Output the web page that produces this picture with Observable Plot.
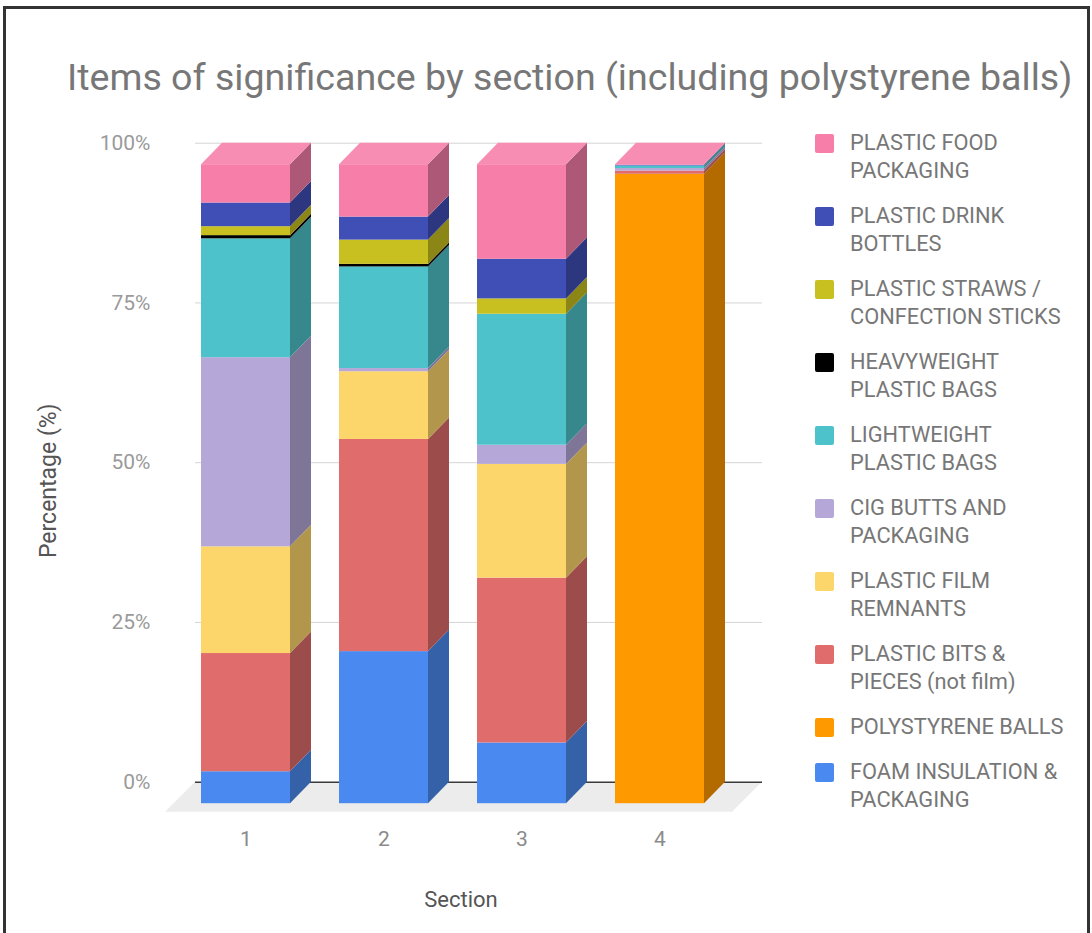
<!DOCTYPE html>
<html>
<head>
<meta charset="utf-8">
<script src="https://cdn.jsdelivr.net/npm/d3@7"></script>
<script src="https://cdn.jsdelivr.net/npm/@observablehq/plot@0.6"></script>
<style>
  html, body { margin: 0; padding: 0; background: #fff; }
  #chart { position: relative; width: 1092px; height: 933px; overflow: hidden; font-family: Roboto, "Noto Sans", sans-serif; background: #fff; }
  #frame { position: absolute; left: 3px; top: 6px; width: 1087px; height: 1000px; border: 3px solid #333; border-bottom: none; box-sizing: border-box; }
  #title { position: absolute; left: 67px; top: 55px; font-size: 37.6px; line-height: 44px; color: #777; white-space: nowrap; }
  #plot { position: absolute; left: 0; top: 100px; }
  #legend { position: absolute; left: 813px; top: 129px; font-size: 21.8px; line-height: 28px; color: #777; }
  .item { position: relative; padding-left: 37px; margin-bottom: 17px; white-space: nowrap; }
  .sw { position: absolute; left: 2px; top: 4.5px; width: 19px; height: 19px; border-radius: 2px; }
</style>
</head>
<body>
<div id="chart">
  <div id="frame"></div>
  <div id="title">Items of significance by section (including polystyrene balls)</div>
  <div id="plot"></div>
  <div id="legend"></div>
</div>
<script>
// Sections along the x axis
const sections = ["1", "2", "3", "4"];

// Categories in stacking order (bottom to top)
const categories = [
  "FOAM INSULATION & PACKAGING",
  "POLYSTYRENE BALLS",
  "PLASTIC BITS & PIECES (not film)",
  "PLASTIC FILM REMNANTS",
  "CIG BUTTS AND PACKAGING",
  "LIGHTWEIGHT PLASTIC BAGS",
  "HEAVYWEIGHT PLASTIC BAGS",
  "PLASTIC STRAWS / CONFECTION STICKS",
  "PLASTIC DRINK BOTTLES",
  "PLASTIC FOOD PACKAGING"
];

// Legend labels with their line breaks, same order as categories
const legendLabels = [
  ["FOAM INSULATION &", "PACKAGING"],
  ["POLYSTYRENE BALLS"],
  ["PLASTIC BITS &", "PIECES (not film)"],
  ["PLASTIC FILM", "REMNANTS"],
  ["CIG BUTTS AND", "PACKAGING"],
  ["LIGHTWEIGHT", "PLASTIC BAGS"],
  ["HEAVYWEIGHT", "PLASTIC BAGS"],
  ["PLASTIC STRAWS /", "CONFECTION STICKS"],
  ["PLASTIC DRINK", "BOTTLES"],
  ["PLASTIC FOOD", "PACKAGING"]
];

const colors = [
  "#4a8af0", "#ff9900", "#e06c6c", "#fdd66b", "#b5a8d8",
  "#4ec2ca", "#000000", "#c8c020", "#3f4fb6", "#f67ea8"
];

// Percentage of items per section (sections 1..4)
const foam        = [5.0, 23.8,  9.5,  0.0];
const polystyrene = [0.0,  0.0,  0.0, 98.5];
const bits        = [18.5, 33.2, 25.8, 0.5];
const film        = [16.7, 10.6, 17.8, 0.0];
const cigButts    = [29.6,  0.5,  3.0, 0.4];
const lightBags   = [18.6, 15.9, 20.5, 0.4];
const heavyBags   = [0.5,   0.4,  0.0, 0.0];
const straws      = [1.4,   3.8,  2.4, 0.0];
const drinkBottles= [3.7,   3.6,  6.2, 0.1];
const foodPack    = [6.0,   8.2, 14.8, 0.1];

const series = [foam, polystyrene, bits, film, cigButts, lightBags, heavyBags, straws, drinkBottles, foodPack];

const yTicks = [0, 25, 50, 75, 100];

// Stacked table: one row per section and category
const table = [];
const totals = {};
sections.forEach((s, i) => {
  let acc = 0;
  categories.forEach((c, k) => {
    const v = series[k][i];
    table.push({section: s, category: c, value: v, y0: acc, y1: acc + v, k});
    acc += v;
  });
  totals[s] = acc;
});

// Depth of the 3D bars (front faces are shifted left and down)
const DX = 21, DY = 21.5;
const INNER = 0.352;

const sideColor = c => d3.rgb(c).darker(1).formatHex();
const topColor = c => d3.interpolateRgb(c, "#ffffff")(0.12);

function bandInfo(x) {
  const step = x(sections[1]) - x(sections[0]);
  let bw = x.bandwidth;
  if (typeof bw === "function") bw = bw();
  if (typeof bw !== "number" || !isFinite(bw)) bw = step * (1 - INNER);
  return bw;
}

// Floor under the bars
function floor(index, scales, values, dims) {
  const y0 = scales.y(0);
  const l = dims.marginLeft, r = dims.width - dims.marginRight;
  const g = d3.create("svg:g");
  g.append("polygon")
    .attr("points", [[l, y0], [r, y0], [r - 30, y0 + 30], [l - 30, y0 + 30]].map(p => p.join(",")).join(" "))
    .attr("fill", "#ececec");
  return g.node();
}

// Side and top faces of the stacked prisms
function prisms(index, scales, values, dims) {
  const {x, y} = scales;
  const bw = bandInfo(x);
  const g = d3.create("svg:g");
  for (const d of table) {
    if (d.value <= 0) continue;
    const xr = x(d.section) + bw, xf = xr - DX;
    const a = y(d.y0), b = y(d.y1);
    g.append("polygon")
      .attr("points", [[xf, a + DY], [xf, b + DY], [xr, b], [xr, a]].map(p => p.join(",")).join(" "))
      .attr("fill", sideColor(colors[d.k]));
  }
  for (const s of sections) {
    const rows = table.filter(d => d.section === s && d.value > 0);
    const topRow = rows[rows.length - 1];
    const xl = x(s), xr = xl + bw, t = y(totals[s]);
    g.append("polygon")
      .attr("points", [[xl - DX, t + DY], [xr - DX, t + DY], [xr, t], [xl, t]].map(p => p.join(",")).join(" "))
      .attr("fill", topColor(colors[topRow.k]));
  }
  return g.node();
}

const chart = Plot.plot({
  width: 800,
  height: 833,
  marginLeft: 195,
  marginRight: 38,
  marginTop: 42.7,
  marginBottom: 151.3,
  style: {fontFamily: "Roboto, 'Noto Sans', sans-serif", background: "transparent"},
  x: {domain: sections, paddingInner: INNER, paddingOuter: 0.229, align: 0.42, axis: null},
  y: {domain: [0, 100], axis: null},
  color: {domain: categories, range: colors},
  marks: [
    floor,
    Plot.ruleY(yTicks.filter(d => d > 0), {stroke: "#d4d4d4", strokeWidth: 1}),
    Plot.ruleY([0], {stroke: "#3a3a3a", strokeWidth: 1.6}),
    Plot.text(yTicks, {y: d => d, text: d => d + "%", frameAnchor: "left", textAnchor: "end", dx: -45, fontSize: 21, fill: "#9a9a9a"}),
    Plot.barY(table.filter(d => d.value > 0), {x: "section", y1: "y0", y2: "y1", fill: "category", dx: -DX, dy: DY}),
    prisms,
    Plot.text(sections, {x: d => d, text: d => d, frameAnchor: "bottom", dx: -DX, dy: 64, fontSize: 21, fill: "#8a8a8a"}),
    Plot.text(["Section"], {frameAnchor: "bottom", textAnchor: "middle", dx: -18, dy: 125, fontSize: 22, fill: "#555"}),
    Plot.text(["Percentage (%)"], {frameAnchor: "left", textAnchor: "middle", rotate: -90, dx: -147, dy: 18, fontSize: 23, fill: "#555"})
  ]
});
document.getElementById("plot").appendChild(chart);

// Legend, top entry first
const legend = d3.select("#legend");
for (let k = categories.length - 1; k >= 0; k--) {
  const item = legend.append("div").attr("class", "item");
  item.append("div").attr("class", "sw").style("background", colors[k]);
  item.append("div").html(legendLabels[k].join("<br>"));
}
</script>
</body>
</html>
